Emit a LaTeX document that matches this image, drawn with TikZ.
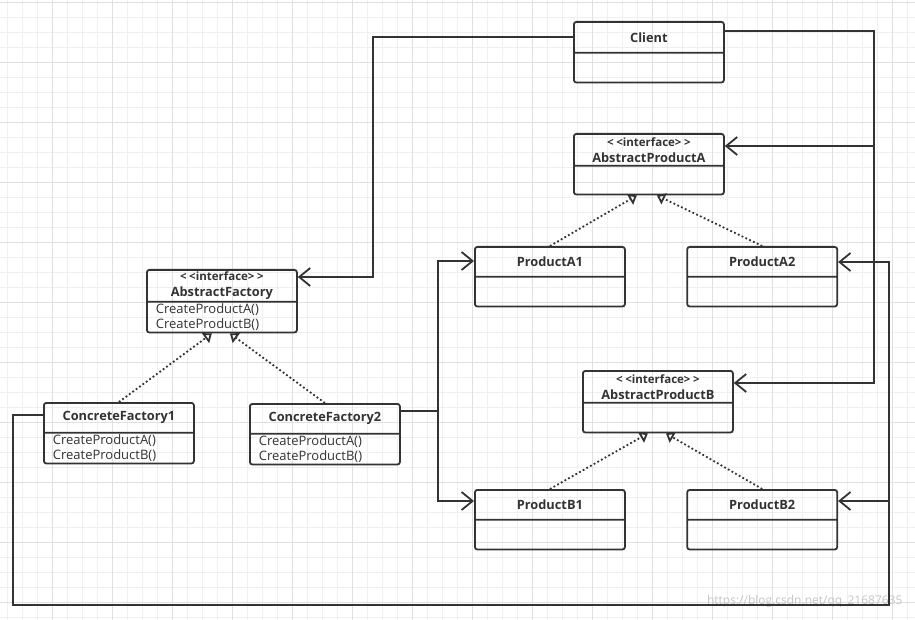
\documentclass[tikz,border=0pt]{standalone}
\usepackage{fontspec}
\setmainfont{Open Sans}
\usepackage{xcolor}
\usetikzlibrary{shapes.multipart}
\usetikzlibrary{positioning}
\usetikzlibrary{arrows.meta,calc}

\definecolor{ink}{HTML}{333333}
\definecolor{gridmin}{HTML}{EFEFEF}
\definecolor{gridmaj}{HTML}{E0E0E0}

\newcommand{\hd}[2]{\parbox[c][#1][c]{150pt}{\centering #2}}
\newcommand{\bd}[2]{\parbox[c][#1][c]{150pt}{\raggedright\leftskip=9pt
  \mdseries\fontsize{13}{15.5}\selectfont #2}}
\newcommand{\iface}{{\fontsize{11.5}{13}\selectfont <\kern2.5pt<interface>\kern2.5pt>}}

\begin{document}
\begin{tikzpicture} [
    x=1pt, y=-1pt,
    umlclass/.style = { rectangle split, rectangle split parts=2,
                        draw=ink, line width=1.8pt, rounded corners=2.5pt,
                        inner sep=0pt, anchor=north west, text=ink,
                        font=\fontsize{12.8}{16}\selectfont\bfseries },
    line/.style     = { draw=ink, line width=1.8pt },
    assoc/.style    = { line, -{Straight Barb[length=11pt,width=18pt]} },
    realize/.style  = { draw=ink, line width=1.8pt, dash pattern=on 1.8pt off 2.4pt,
                        -{Triangle[open,length=8pt,width=12pt]} },
  ]
  \useasboundingbox (0,0) rectangle (915,620);
  \fill[white] (0,0) rectangle (915,620);
  % grid
  \foreach \g in {0,...,60} \draw[gridmin, line width=0.8pt] (7.3+15*\g,0) -- (7.3+15*\g,620);
  \foreach \g in {0,...,41} \draw[gridmin, line width=0.8pt] (0,2.3+15*\g) -- (915,2.3+15*\g);
  \foreach \g in {0,...,14} \draw[gridmaj, line width=0.8pt] (52.3+60*\g,0) -- (52.3+60*\g,620);
  \foreach \g in {0,...,10} \draw[gridmaj, line width=0.8pt] (0,2.3+60*\g) -- (915,2.3+60*\g);

  \node[umlclass] (client) at (573,21) {\hd{29pt}{Client} \nodepart{two} \bd{28pt}{}};
  \node[umlclass] (apa) at (573,133) {\hd{30pt}{\iface\\AbstractProductA} \nodepart{two} \bd{27pt}{}};
  \node[umlclass] (af) at (146,269) {\hd{30pt}{\iface\\AbstractFactory}
        \nodepart{two} \bd{29pt}{CreateProductA()\\CreateProductB()}};
  \node[umlclass] (cf1) at (43,402) {\hd{28pt}{ConcreteFactory1}
        \nodepart{two} \bd{29pt}{CreateProductA()\\CreateProductB()}};
  \node[umlclass] (cf2) at (249,403) {\hd{28pt}{ConcreteFactory2}
        \nodepart{two} \bd{29pt}{CreateProductA()\\CreateProductB()}};
  \node[umlclass] (pa1) at (474,246) {\hd{28pt}{ProductA1} \nodepart{two} \bd{28pt}{}};
  \node[umlclass, right=60.5pt of pa1] (pa2) {\hd{28pt}{ProductA2} \nodepart{two} \bd{28pt}{}};
  \node[umlclass] (apb) at (582,370) {\hd{30pt}{\iface\\AbstractProductB} \nodepart{two} \bd{28pt}{}};
  \node[umlclass] (pb1) at (474,489) {\hd{28pt}{ProductB1} \nodepart{two} \bd{28pt}{}};
  \node[umlclass, right=60.5pt of pb1] (pb2) {\hd{28pt}{ProductB2} \nodepart{two} \bd{28pt}{}};

  \node[text=gray!45, anchor=east, font=\fontsize{12}{12}\selectfont] (wm) at (906,601)
        {https://blog.csdn.net/qq\_21687635};

  % connect nodes
  \draw[assoc] ([yshift=-16pt]client.north west) -- ++(-200,0) |- ([yshift=-8pt]af.north east);
  \draw[assoc] ([yshift=-10pt]client.north east) -- ++(149,0) coordinate (cr)
        |- ([yshift=-13pt]apb.north east);
  \coordinate (apain) at ([yshift=-13pt]apa.north east);
  \draw[assoc] (cr |- apain) -- (apain);

  \draw[line] ([yshift=-8pt]cf2.north east) -- ++(37,0) coordinate (cf2r);
  \draw[assoc] (cf2r) |- ([yshift=-15pt]pa1.north west);
  \draw[assoc] (cf2r) |- ([yshift=-12pt]pb1.north west);

  \coordinate (lb) at (13,605);
  \coordinate (rb) at (889,605);
  \draw[assoc] ([yshift=-13pt]cf1.north west) -| (lb) -- (rb) |- ([yshift=-16pt]pa2.north east);
  \draw[assoc] (rb) |- ([yshift=-12pt]pb2.north east);

  \draw[realize] (cf1.north) -- ([xshift=-10pt]af.south);
  \draw[realize] (cf2.north) -- ([xshift=8pt]af.south);
  \draw[realize] (pa1.north) -- ([xshift=-12pt]apa.south);
  \draw[realize] (pa2.north) -- ([xshift=8pt]apa.south);
  \draw[realize] (pb1.north) -- ([xshift=-10pt]apb.south);
  \draw[realize] (pb2.north) -- ([xshift=8pt]apb.south);
\end{tikzpicture}
\end{document}
